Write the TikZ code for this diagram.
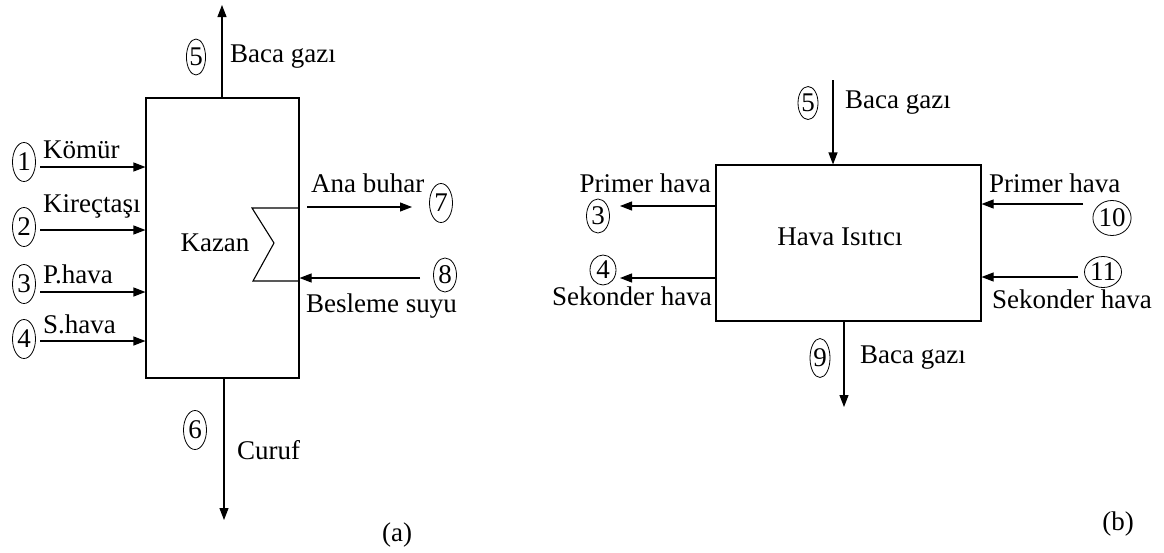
\documentclass[tikz,border=0pt]{standalone}
\usepackage{fontspec}
\setmainfont{Liberation Serif}
\usetikzlibrary{arrows.meta,shapes.geometric}
\begin{document}
\begin{tikzpicture}[x=1pt,y=-1pt,
  every node/.style={font=\fontsize{27}{31}\selectfont},
  unit/.style={draw,line width=1.1pt,inner sep=0pt},
  flow/.style={line width=1.1pt,-{Triangle[length=12pt,width=9pt]}},
  num/.style={draw,ellipse,line width=0.8pt,inner sep=0pt,minimum width=23pt,minimum height=39pt},
  lbl/.style={inner sep=0pt}]
\useasboundingbox (0,0) rectangle (1164,552);

% ---------- (a) boiler ----------
\node[unit,minimum width=153pt,minimum height=280pt] (kazan) at (222.5,238) {};
\node[lbl] (kazanlbl) at (215,243) {Kazan};

% heat exchanger symbol on the right wall
\coordinate (hxa) at (298,208);
\coordinate (hxb) at (298,281);
\draw[line width=1.1pt] (hxa) -- (252,208) -- (274,243) -- (253,281) -- (hxb);

% inlets on the left
\foreach \i/\yy/\ty/\ny/\txt in {1/167/150/162/Kömür,2/230/206/227/Kireçtaşı,3/292/274/284/P.hava,4/341/324/339/S.hava}{
  \node[num] (n\i) at (24,\ny) {\i};
  \coordinate (in\i) at (40,\yy);
  \draw[flow] (in\i) -- (kazan.west |- in\i);
  \node[lbl,anchor=west] (t\i) at (43,\ty) {\txt};
}

% flue gas out of the top
\coordinate (fluea) at (222,5);
\draw[flow] (kazan.north -| fluea) -- (fluea);
\node[num,minimum width=18pt,minimum height=36pt] (n5a) at (196,57) {5};
\node[lbl,anchor=west] (t5a) at (230,57) {Baca gazı};

% slag out of the bottom
\coordinate (slag) at (224,520);
\draw[flow] (kazan.south -| slag) -- (slag);
\node[num] (n6) at (195,430) {6};
\node[lbl,anchor=west] (t6) at (237,450) {Curuf};

% main steam out, feed water in
\coordinate (steam) at (412,207);
\draw[flow] (307,207) -- (steam);
\node[lbl,anchor=west] (t7) at (311,183) {Ana buhar};
\node[num] (n7) at (441,203) {7};

\coordinate (feed) at (420,278);
\draw[flow] (feed) -- (kazan.east |- feed);
\node[num,minimum height=34pt] (n8) at (445,275) {8};
\node[lbl,anchor=west] (t8) at (306,306) {Besleme suyu};

\node[lbl] (capa) at (397,535) {(a)};

% ---------- (b) air heater ----------
\node[unit,minimum width=265pt,minimum height=156pt] (isitici) at (848.5,243) {};
\node[lbl] (isiticilbl) at (840,237) {Hava Isıtıcı};

% flue gas in from the top
\coordinate (fluein) at (833,80);
\draw[flow] (fluein) -- (isitici.north -| fluein);
\node[num,minimum width=20pt,minimum height=33pt] (n5b) at (808,103) {5};
\node[lbl,anchor=west] (t5b) at (845,103) {Baca gazı};

% flue gas out of the bottom
\coordinate (flueout) at (844,407);
\draw[flow] (isitici.south -| flueout) -- (flueout);
\node[num,minimum width=20pt] (n9) at (820,358) {9};
\node[lbl,anchor=west] (t9) at (860,358) {Baca gazı};

% heated air leaving on the left
\coordinate (pout) at (620,206);
\draw[flow] (isitici.west |- pout) -- (pout);
\node[lbl,anchor=east] (t3b) at (711,183) {Primer hava};
\node[num,minimum height=34pt] (n3b) at (598,216) {3};

\coordinate (sout) at (620,278);
\draw[flow] (isitici.west |- sout) -- (sout);
\node[num,minimum height=30pt,minimum width=26pt] (n4b) at (603,270) {4};
\node[lbl,anchor=east] (t4b) at (712,296) {Sekonder hava};

% cold air entering on the right
\coordinate (pin) at (1083,204);
\draw[flow] (pin) -- (isitici.east |- pin);
\node[lbl,anchor=west] (t10) at (989,183) {Primer hava};
\node[num,minimum width=38pt,minimum height=35pt] (n10) at (1112,218) {10};

\coordinate (sin) at (1078,277);
\draw[flow] (sin) -- (isitici.east |- sin);
\node[num,minimum width=37pt,minimum height=31pt] (n11) at (1103,272) {11};
\node[lbl,anchor=west] (t11) at (992,299) {Sekonder hava};

\node[lbl] (capb) at (1118,524) {(b)};
\end{tikzpicture}
\end{document}
